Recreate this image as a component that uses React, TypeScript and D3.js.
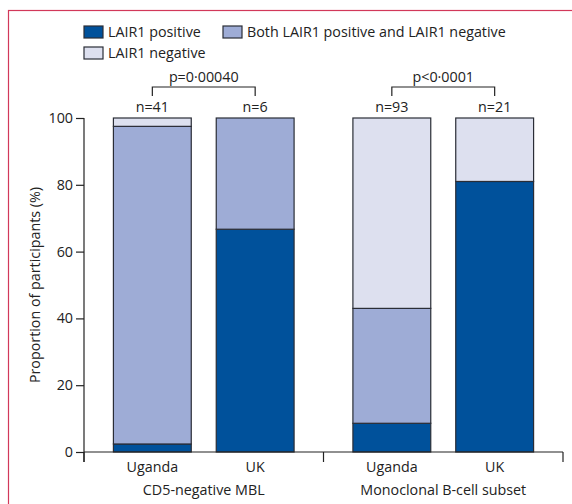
import { useEffect, useRef } from 'react';
import * as d3 from 'd3';

const groups = ['CD5-negative MBL', 'Monoclonal B-cell subset'];
const countries = ['Uganda', 'UK'];
const nCounts = [41, 6, 93, 21];
const pValues = ['p=0·00040', 'p<0·0001'];
const layers = ['LAIR1 positive', 'Both LAIR1 positive and LAIR1 negative', 'LAIR1 negative'];
const positive = [2.4, 66.7, 8.6, 81.0];
const both = [95.1, 33.3, 34.4, 0];
const negative = [2.5, 0, 57.0, 19.0];
const yTicks = [0, 20, 40, 60, 80, 100];

const colors = ['#00519b', '#9eacd6', '#dde0ef'];
const FONT = '"Open Sans", sans-serif';
const FS = '14.3px';

export default function App() {
  const svgRef = useRef<SVGSVGElement>(null);

  useEffect(() => {
    if (!svgRef.current) return;
    const width = 572;
    const height = 504;
    const margin = { top: 118, right: 9, bottom: 52, left: 84 };

    d3.select(svgRef.current).selectAll('*').remove();
    const svg = d3.select(svgRef.current).attr('width', width).attr('height', height);

    // Frame
    svg.append('rect')
      .attr('x', 8.5).attr('y', 10.5)
      .attr('width', 700).attr('height', 700)
      .attr('fill', 'none')
      .attr('stroke', '#d2385a')
      .attr('stroke-width', 1.2);

    const x0 = d3.scaleBand<string>()
      .domain(groups)
      .range([margin.left, width - margin.right]);

    const x1 = d3.scaleBand<string>()
      .domain(countries)
      .range([0, x0.bandwidth()])
      .paddingInner(0.243)
      .paddingOuter(0.286);

    const y = d3.scaleLinear()
      .domain([0, 100])
      .range([height - margin.bottom, margin.top]);

    const label = (sel: d3.Selection<SVGTextElement, unknown, null, undefined>) =>
      sel.style('font-family', FONT).style('font-size', FS).style('fill', '#222');

    // Stacked data
    const rows = groups.flatMap((g, gi) => countries.map((c, ci) => {
      const i = gi * countries.length + ci;
      return { group: g, country: c, i, values: [positive[i], both[i], negative[i]] };
    }));

    rows.forEach(r => {
      const bx = (x0(r.group) ?? 0) + (x1(r.country) ?? 0);
      let acc = 0;
      r.values.forEach((v, li) => {
        if (v <= 0) return;
        svg.append('rect')
          .attr('x', bx)
          .attr('y', y(acc + v))
          .attr('width', x1.bandwidth())
          .attr('height', y(acc) - y(acc + v))
          .attr('fill', colors[li])
          .attr('stroke', '#2a2d36')
          .attr('stroke-width', 1.2);
        acc += v;
      });

      svg.append('text')
        .attr('x', bx + x1.bandwidth() / 2)
        .attr('y', y(100) - 6)
        .attr('text-anchor', 'middle')
        .call(label)
        .text(`n=${nCounts[r.i]}`);
    });

    // p-value brackets
    groups.forEach((g, gi) => {
      const xa = (x0(g) ?? 0) + (x1(countries[0]) ?? 0) + x1.bandwidth() / 2;
      const xb = (x0(g) ?? 0) + (x1(countries[1]) ?? 0) + x1.bandwidth() / 2;
      const top = y(100) - 31;
      svg.append('path')
        .attr('d', `M${xa},${top + 9}V${top}H${xb}V${top + 9}`)
        .attr('fill', 'none')
        .attr('stroke', '#222')
        .attr('stroke-width', 1.2);
      svg.append('text')
        .attr('x', (xa + xb) / 2)
        .attr('y', top - 5)
        .attr('text-anchor', 'middle')
        .call(label)
        .text(pValues[gi]);
    });

    // Y axis
    const yAxis = svg.append('g')
      .attr('transform', `translate(${margin.left},0)`)
      .call(d3.axisLeft(y).tickValues(yTicks).tickSize(8).tickPadding(3));
    yAxis.select('.domain').remove();
    yAxis.append('line')
      .attr('x1', 0).attr('x2', 0)
      .attr('y1', y(100)).attr('y2', y(0) + 10)
      .attr('stroke', '#222').attr('stroke-width', 1.2);
    yAxis.selectAll('line').attr('stroke', '#222').attr('stroke-width', 1.2);
    yAxis.selectAll('text')
      .style('font-family', FONT)
      .style('font-size', FS)
      .style('fill', '#222');

    // X axis
    const xAxisG = svg.append('g');
    xAxisG.append('line')
      .attr('x1', margin.left).attr('x2', width - margin.right)
      .attr('y1', y(0)).attr('y2', y(0))
      .attr('stroke', '#222').attr('stroke-width', 1.2);
    [...groups.map(g => x0(g) ?? 0), x0.range()[1]].forEach(tx => {
      xAxisG.append('line')
        .attr('x1', tx).attr('x2', tx)
        .attr('y1', y(0)).attr('y2', y(0) + 10)
        .attr('stroke', '#222').attr('stroke-width', 1.2);
    });

    groups.forEach(g => {
      countries.forEach(c => {
        svg.append('text')
          .attr('x', (x0(g) ?? 0) + (x1(c) ?? 0) + x1.bandwidth() / 2)
          .attr('y', y(0) + 20)
          .attr('text-anchor', 'middle')
          .call(label)
          .text(c);
      });
      svg.append('text')
        .attr('x', (x0(g) ?? 0) + x0.bandwidth() / 2)
        .attr('y', y(0) + 43)
        .attr('text-anchor', 'middle')
        .call(label)
        .text(g);
    });

    // Y axis label
    svg.append('text')
      .attr('transform', 'rotate(-90)')
      .attr('x', -(y(0) + y(100)) / 2)
      .attr('y', 40)
      .attr('text-anchor', 'middle')
      .call(label)
      .text('Proportion of participants (%)');

    // Legend
    const legendPos = [[84, 26], [223, 26], [84, 47]];
    layers.forEach((name, i) => {
      const row = svg.append('g')
        .attr('transform', `translate(${legendPos[i][0]},${legendPos[i][1]})`);
      row.append('rect')
        .attr('width', 19).attr('height', 12)
        .attr('fill', colors[i])
        .attr('stroke', '#2a2d36')
        .attr('stroke-width', 1.2);
      row.append('text')
        .attr('x', 24)
        .attr('y', 11)
        .call(label)
        .text(name);
    });
  }, []);

  return (
    <div style={{ position: 'absolute', left: 0, top: 0 }}>
      <svg ref={svgRef}></svg>
    </div>
  );
}
